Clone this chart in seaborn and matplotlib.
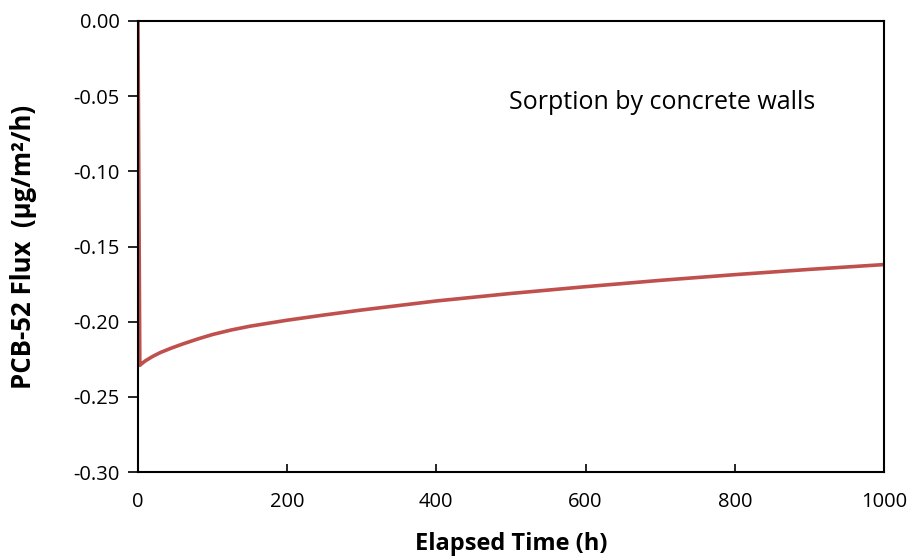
import matplotlib
matplotlib.use("Agg")
import matplotlib.pyplot as plt
import seaborn as sns
import pandas as pd

elapsed_h = [0, 2.5, 6, 10, 15, 20, 30, 45, 60, 80, 100, 125, 150, 200, 250, 300, 400,
             500, 600, 700, 800, 900, 1000]
flux = [0.0, -0.229, -0.2275, -0.226, -0.2245, -0.223, -0.2205, -0.2175, -0.2148, -0.2115,
        -0.2085, -0.2055, -0.2030, -0.1990, -0.1955, -0.1922, -0.1862, -0.1812, -0.1767,
        -0.1725, -0.1687, -0.1652, -0.1620]
x_ticks = [0, 200, 400, 600, 800, 1000]
y_ticks = [0.00, -0.05, -0.10, -0.15, -0.20, -0.25, -0.30]

sns.set_style("white")
plt.rcParams['font.family'] = ['Open Sans', 'DejaVu Sans']
plt.rcParams['text.color'] = 'black'
plt.rcParams['axes.labelcolor'] = 'black'

df = pd.DataFrame({"t": elapsed_h, "flux": flux})

fig = plt.figure(figsize=(9.13, 5.6), dpi=100)
ax = fig.add_axes([0.1511, 0.157, 0.8171, 0.8055])
sns.lineplot(data=df, x="t", y="flux", ax=ax, color="#C0504D", linewidth=2.6)

ax.set_xlim(0, 1000)
ax.set_ylim(-0.30, 0.0)
ax.set_xticks(x_ticks)
ax.set_xticklabels([str(v) for v in x_ticks])
ax.set_yticks(y_ticks)
ax.set_yticklabels([f"{v:.2f}" if v != 0 else "0.00" for v in y_ticks])
for s in ax.spines.values():
    s.set_color("black")
    s.set_linewidth(1.5)
ax.tick_params(axis='y', direction='out', length=7, width=1.2, labelsize=14.5, colors='black', pad=6)
ax.tick_params(axis='x', direction='in', length=6, width=1.2, labelsize=14.5, colors='black', pad=14)
ax.tick_params(axis='x', bottom=True)
ax.tick_params(axis='y', left=True)

ax.set_xlabel("Elapsed Time (h)", fontsize=17, fontweight='bold', labelpad=15)
ax.set_ylabel("PCB-52 Flux  (µg/m²/h)", fontsize=18.5, fontweight='bold', labelpad=26)
ax.text(497, -0.0545, "Sorption by concrete walls", fontsize=18, va='center', ha='left')

fig.savefig("out.png", dpi=100)
